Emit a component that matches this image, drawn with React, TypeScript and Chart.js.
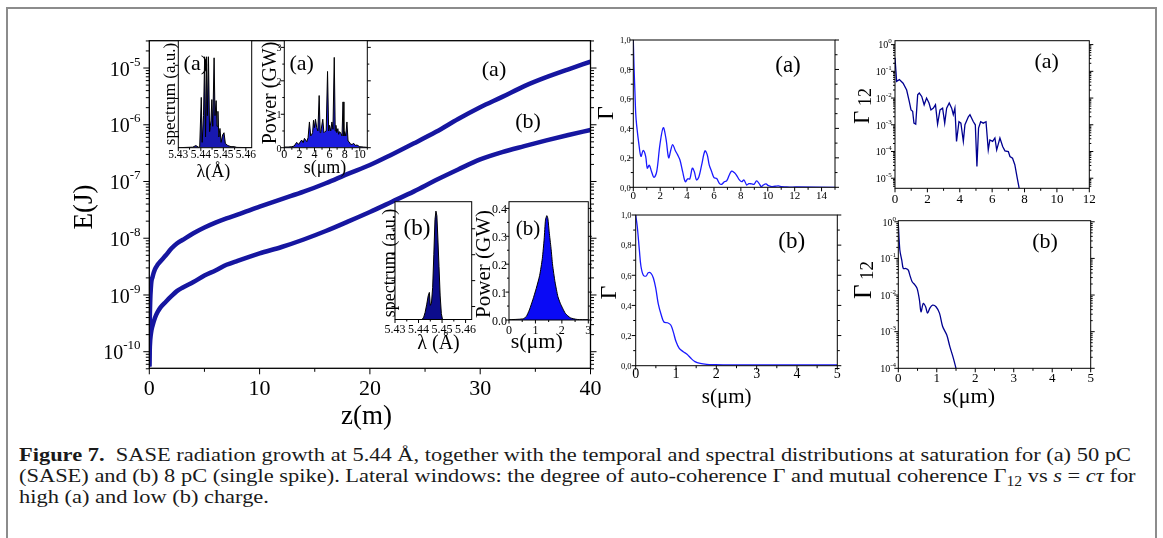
import { useEffect, useRef } from 'react';
import { Chart, registerables } from 'chart.js';
Chart.register(...registerables);

const FONT = '"Liberation Serif", "Times New Roman", Times, serif';

// ---------------- data ----------------
// main panel: E(J) vs z(m)
const zMain = [0, 0.05, 0.15, 0.3, 0.5, 0.75, 1, 1.5, 2, 2.5, 3, 4, 5, 6, 7, 8, 10, 12, 14, 16, 18, 20, 22, 24, 26, 28, 30, 32, 34, 36, 38, 40];
const energyA = [5.5e-11, 4.2e-10, 1.4e-9, 2.1e-9, 2.8e-9, 3.4e-9, 3.9e-9, 5.0e-9, 6.6e-9, 8.1e-9, 9.3e-9, 1.22e-8, 1.54e-8, 1.88e-8, 2.24e-8, 2.6e-8, 3.6e-8, 4.9e-8, 6.6e-8, 9.3e-8, 1.36e-7, 1.95e-7, 3.0e-7, 4.7e-7, 7.5e-7, 1.26e-6, 2.03e-6, 3.1e-6, 4.8e-6, 6.9e-6, 9.5e-6, 1.29e-5];
const energyB = [5.5e-11, 1.23e-10, 2.1e-10, 2.9e-10, 3.9e-10, 5.0e-10, 6.0e-10, 7.6e-10, 9.5e-10, 1.17e-9, 1.34e-9, 1.69e-9, 2.2e-9, 2.7e-9, 3.4e-9, 4.0e-9, 5.4e-9, 7.0e-9, 9.5e-9, 1.34e-8, 1.96e-8, 2.9e-8, 4.4e-8, 6.7e-8, 1.06e-7, 1.63e-7, 2.45e-7, 3.3e-7, 4.2e-7, 5.3e-7, 6.6e-7, 8.1e-7];
const mainXTicks = [0, 10, 20, 30, 40];
const mainXLabels = ['0', '10', '20', '30', '40'];
const mainXMinor = [5, 15, 25, 35];
const mainYTicks = [1e-5, 1e-6, 1e-7, 1e-8, 1e-9, 1e-10];
const mainYExp = ['-5', '-6', '-7', '-8', '-9', '-10'];

// inset (a): spectrum
const lambdaA = [5.43, 5.4364, 5.4378, 5.4389, 5.4395, 5.4402, 5.4406, 5.4412, 5.4417, 5.4421, 5.4426, 5.4429, 5.4434, 5.4439, 5.4445, 5.4449, 5.4453, 5.4459, 5.4463, 5.4468, 5.4472, 5.4476, 5.448, 5.4485, 5.449, 5.4497, 5.4503, 5.4509, 5.452, 5.4534, 5.4548, 5.456, 5.4626];
const specA = [0, 0.005, 0.02, 0.005, 0.01, 0.47, 0.05, 0.3, 0.85, 0.1, 0.85, 0.3, 0.85, 0.15, 0.25, 0.45, 0.2, 0.84, 0.3, 0.44, 0.2, 0.34, 0.1, 0.18, 0.05, 0.12, 0.14, 0.04, 0.02, 0.01, 0.01, 0.003, 0];
// inset (a): power
const sPowA = [0, 0.5, 1.0, 1.3, 1.64, 1.9, 2.3, 2.5, 2.67, 2.98, 3.15, 3.33, 3.5, 3.6, 3.75, 3.87, 4.0, 4.13, 4.3, 4.45, 4.62, 4.75, 4.84, 5.1, 5.25, 5.38, 5.55, 5.73, 5.88, 6.0, 6.15, 6.31, 6.45, 6.62, 6.75, 6.84, 6.95, 7.1, 7.2, 7.33, 7.5, 7.65, 7.78, 7.9, 8.0, 8.15, 8.3, 8.45, 8.58, 8.8, 9.0, 9.2, 9.4, 9.64, 10.0, 10.5, 11];
const powA = [0.02, 0.02, 0.03, 0.05, 0.16, 0.1, 0.23, 0.15, 0.28, 0.18, 0.3, 0.77, 0.35, 0.38, 0.45, 0.82, 0.6, 0.85, 0.6, 0.5, 1.56, 0.45, 0.48, 0.85, 0.45, 0.48, 0.5, 2.28, 0.5, 0.67, 0.5, 0.77, 0.55, 2.7, 0.5, 0.67, 0.45, 0.57, 0.4, 0.48, 0.43, 0.35, 1.37, 0.35, 0.48, 0.35, 0.77, 0.2, 0.18, 0.1, 0.1, 0.13, 0.07, 0.08, 0.03, 0.02, 0.01];
// inset (b): spectrum
const lambdaB = [5.43, 5.4415, 5.4422, 5.4428, 5.4435, 5.4441, 5.4446, 5.445, 5.4455, 5.446, 5.4465, 5.447, 5.4474, 5.4478, 5.4482, 5.4487, 5.4492, 5.4497, 5.4502, 5.4626];
const specB = [0, 0, 0.02, 0.06, 0.13, 0.2, 0.23, 0.12, 0.14, 0.27, 0.55, 0.85, 0.92, 0.88, 0.7, 0.45, 0.2, 0.05, 0, 0];
// inset (b): power
const sPowB = [0, 0.52, 0.65, 0.77, 0.9, 1.03, 1.16, 1.26, 1.33, 1.38, 1.43, 1.47, 1.52, 1.59, 1.65, 1.74, 1.85, 1.94, 2.03, 2.13, 2.32, 2.58, 3];
const powB = [0.001, 0.004, 0.012, 0.036, 0.072, 0.113, 0.16, 0.22, 0.29, 0.358, 0.374, 0.364, 0.316, 0.257, 0.197, 0.137, 0.084, 0.06, 0.042, 0.024, 0.008, 0.002, 0.001];
const lambdaTicks = [5.43, 5.44, 5.45, 5.46];
const lambdaLabels = ['5.43', '5.44', '5.45', '5.46'];

// right panels: auto-coherence Γ
const sGamA = [0, 0.06, 0.12, 0.18, 0.25, 0.42, 0.57, 0.74, 0.92, 1.04, 1.19, 1.36, 1.54, 1.74, 1.98, 2.23, 2.43, 2.63, 2.78, 2.93, 3.12, 3.3, 3.47, 3.67, 3.87, 4.04, 4.2, 4.39, 4.54, 4.7, 4.88, 5.08, 5.33, 5.5, 5.65, 5.83, 6.0, 6.2, 6.4, 6.57, 6.77, 6.94, 7.14, 7.31, 7.51, 7.69, 7.89, 8.06, 8.23, 8.43, 8.6, 8.8, 8.98, 9.17, 9.35, 9.52, 9.67, 9.87, 10.04, 10.29, 10.54, 10.79, 11.03, 11.4, 12.15, 15];
const gamA = [1.0, 0.8, 0.65, 0.5, 0.42, 0.29, 0.21, 0.25, 0.21, 0.13, 0.15, 0.106, 0.068, 0.106, 0.29, 0.405, 0.33, 0.2, 0.25, 0.29, 0.25, 0.22, 0.185, 0.106, 0.038, 0.057, 0.057, 0.13, 0.106, 0.05, 0.072, 0.15, 0.247, 0.22, 0.15, 0.106, 0.066, 0.06, 0.027, 0.02, 0.038, 0.043, 0.084, 0.11, 0.1, 0.08, 0.05, 0.038, 0.05, 0.016, 0.025, 0.023, 0.02, 0.043, 0.027, 0.005, 0.016, 0.023, 0.011, 0.005, 0.007, 0.009, 0.005, 0.002, 0.002, 0];
const sGamB = [0, 0.04, 0.09, 0.13, 0.19, 0.26, 0.31, 0.38, 0.44, 0.5, 0.56, 0.63, 0.7, 0.79, 0.87, 0.93, 1.0, 1.08, 1.18, 1.28, 1.37, 1.47, 1.6, 1.76, 1.97, 2.17, 5];
const gamB = [1.0, 0.92, 0.77, 0.66, 0.6, 0.595, 0.617, 0.613, 0.58, 0.51, 0.41, 0.34, 0.29, 0.285, 0.27, 0.226, 0.16, 0.115, 0.093, 0.075, 0.049, 0.027, 0.015, 0.009, 0.007, 0.006, 0.006];
const gamYTicks = [0, 0.2, 0.4, 0.6, 0.8, 1.0];
const gamYLabels = ['0,0', '0,2', '0,4', '0,6', '0,8', '1,0'];
const gamYMinor = [0.1, 0.3, 0.5, 0.7, 0.9];

// right panels: mutual coherence Γ12
const sG12A = [0, 0.1, 0.27, 0.5, 0.72, 0.88, 0.99, 1.09, 1.17, 1.28, 1.4, 1.5, 1.65, 1.8, 1.95, 2.1, 2.22, 2.37, 2.5, 2.63, 2.78, 2.94, 3.07, 3.19, 3.35, 3.5, 3.6, 3.7, 3.8, 3.95, 4.07, 4.22, 4.32, 4.53, 4.63, 4.84, 4.96, 5.06, 5.16, 5.29, 5.45, 5.62, 5.76, 5.86, 6.03, 6.17, 6.28, 6.48, 6.65, 6.79, 7.0, 7.1, 7.26, 7.4, 7.55, 7.67];
const g12A = [0.32, 0.042, 0.049, 0.036, 0.02, 0.0075, 0.0036, 0.0032, 0.00115, 0.00106, 0.0133, 0.0154, 0.0115, 0.0056, 0.01, 0.0065, 0.0036, 0.0042, 0.0056, 0.00106, 0.0036, 0.0042, 0.00115, 0.0042, 0.0065, 0.0042, 0.0024, 0.0042, 0.00024, 0.0013, 0.00115, 0.00024, 0.001, 0.002, 0.0024, 0.0013, 0.001, 0.0000275, 0.00075, 0.0013, 0.00115, 0.0013, 0.000115, 0.00027, 0.00024, 0.00032, 0.000115, 0.00032, 0.000154, 0.000106, 0.0001, 0.000065, 0.000056, 0.000032, 0.00001, 0.0000042];
const sG12B = [0, 0.04, 0.09, 0.13, 0.2, 0.26, 0.3, 0.36, 0.43, 0.49, 0.55, 0.59, 0.65, 0.71, 0.76, 0.82, 0.89, 0.98, 1.07, 1.15, 1.26, 1.34, 1.43, 1.5];
const g12B = [0.9, 0.17, 0.09, 0.053, 0.053, 0.048, 0.035, 0.023, 0.019, 0.015, 0.0073, 0.0035, 0.0059, 0.0048, 0.0032, 0.0044, 0.0053, 0.0048, 0.0032, 0.0014, 0.00081, 0.00039, 0.00019, 0.0001];
const g12ATicks = [1, 1e-1, 1e-2, 1e-3, 1e-4, 1e-5];
const g12AExp = ['0', '-1', '-2', '-3', '-4', '-5'];
const g12BTicks = [1, 1e-1, 1e-2, 1e-3, 1e-4];
const g12BExp = ['0', '-1', '-2', '-3', '-4'];

// ---------------- drawing helpers ----------------
type Part = { t: string; s: number; dy?: number; b?: boolean; i?: boolean };
type Axis = { major: number[]; labels?: Part[][]; at?: number; minor?: number[]; len: number; mlen: number };
type Txt = { parts: Part[]; x: number; y: number; align?: 'left' | 'center' | 'right'; rot?: boolean };
type Decor = { ox: number; oy: number; bg?: string; lw?: number; mirror?: boolean; x: Axis; y: Axis; texts: Txt[] };

const fontOf = (p: Part) => `${p.i ? 'italic ' : ''}${p.b ? 'bold ' : ''}${p.s}px ${FONT}`;

function drawRich(ctx: CanvasRenderingContext2D, parts: Part[], x: number, y: number, align: string, rot = false) {
  ctx.save();
  ctx.translate(x, y);
  if (rot) ctx.rotate(-Math.PI / 2);
  ctx.textAlign = 'left';
  ctx.textBaseline = 'alphabetic';
  const w = parts.map((p) => { ctx.font = fontOf(p); return ctx.measureText(p.t).width; });
  const total = w.reduce((a, b) => a + b, 0);
  let cx = align === 'center' ? -total / 2 : align === 'right' ? -total : 0;
  const base = rot ? Math.max(...parts.map((p) => p.s)) * 0.34 : 0;
  parts.forEach((p, i) => { ctx.font = fontOf(p); ctx.fillText(p.t, cx, base + (p.dy || 0)); cx += w[i]; });
  ctx.restore();
}

function makeDecor(d: Decor) {
  return {
    id: 'decor',
    beforeDatasetsDraw(chart: any) {
      if (!d.bg) return;
      const a = chart.chartArea, ctx = chart.ctx;
      ctx.save();
      ctx.fillStyle = d.bg;
      ctx.fillRect(a.left, a.top, a.right - a.left, a.bottom - a.top);
      ctx.restore();
    },
    afterDraw(chart: any) {
      const ctx: CanvasRenderingContext2D = chart.ctx, a = chart.chartArea;
      const xs = chart.scales.x, ys = chart.scales.y;
      ctx.save();
      ctx.strokeStyle = '#000';
      ctx.fillStyle = '#000';
      ctx.lineWidth = 1;
      const ticks = (vals: number[], len: number, horiz: boolean) => {
        ctx.beginPath();
        for (const v of vals) {
          if (horiz) {
            const p = xs.getPixelForValue(v);
            if (p < a.left - 0.5 || p > a.right + 0.5) continue;
            ctx.moveTo(p, a.bottom); ctx.lineTo(p, a.bottom + len);
          } else {
            const p = ys.getPixelForValue(v);
            if (p < a.top - 0.5 || p > a.bottom + 0.5) continue;
            ctx.moveTo(a.left, p); ctx.lineTo(a.left - len, p);
            if (d.mirror) { ctx.moveTo(a.right, p); ctx.lineTo(a.right + len, p); }
          }
        }
        ctx.stroke();
      };
      ticks(d.x.major, d.x.len, true);
      ticks(d.x.minor || [], d.x.mlen, true);
      ticks(d.y.major, d.y.len, false);
      ticks(d.y.minor || [], d.y.mlen, false);
      ctx.lineWidth = d.lw || 1;
      ctx.strokeRect(a.left, a.top, a.right - a.left, a.bottom - a.top);
      if (d.x.labels) d.x.labels.forEach((parts, i) => drawRich(ctx, parts, xs.getPixelForValue(d.x.major[i]), (d.x.at as number) - d.oy, 'center'));
      if (d.y.labels) d.y.labels.forEach((parts, i) => drawRich(ctx, parts, (d.y.at as number) - d.ox, ys.getPixelForValue(d.y.major[i]) + parts[0].s * 0.38, 'right'));
      d.texts.forEach((t) => drawRich(ctx, t.parts, t.x - d.ox, t.y - d.oy, t.align || 'center', !!t.rot));
      ctx.restore();
    },
  };
}

const series = (xs: number[], ys: number[], color: string, width: number, extra: any = {}) => ({
  data: xs.map((x, i) => ({ x, y: ys[i] })),
  borderColor: color,
  borderWidth: width,
  pointRadius: 0,
  fill: false,
  tension: 0,
  ...extra,
});

type Box = [number, number, number, number];
function makeConfig(p: { box: Box; area: Box; xr: [number, number]; yr: [number, number]; ylog?: boolean; datasets: any[]; decor: Omit<Decor, 'ox' | 'oy'> }) {
  const [cl, ct, cw, ch] = p.box;
  const [al, at, ar, ab] = p.area;
  return {
    type: 'line',
    data: { datasets: p.datasets },
    options: {
      responsive: false,
      maintainAspectRatio: false,
      animation: false,
      devicePixelRatio: 1,
      events: [],
      layout: { padding: { left: al - cl, top: at - ct, right: cl + cw - ar, bottom: ct + ch - ab } },
      plugins: { legend: { display: false }, tooltip: { enabled: false } },
      scales: {
        x: { type: 'linear', min: p.xr[0], max: p.xr[1], display: false },
        y: { type: p.ylog ? 'logarithmic' : 'linear', min: p.yr[0], max: p.yr[1], display: false },
      },
    },
    plugins: [makeDecor({ ...p.decor, ox: cl, oy: ct })],
  };
}

const lab = (arr: string[], s: number): Part[][] => arr.map((t) => [{ t, s }]);
const pow10 = (arr: string[], s: number, ss: number, dy: number): Part[][] => arr.map((e) => [{ t: '10', s }, { t: e, s: ss, dy }]);
const T = (t: string, s: number, x: number, y: number, rot = false, extra: Part[] = []): Txt => ({ parts: [{ t, s }, ...extra], x, y, rot });
function logMinors(lo: number, hi: number) {
  const out: number[] = [];
  for (let e = lo; e < hi; e++) for (let m = 2; m < 10; m++) out.push(m * Math.pow(10, e));
  return out;
}
const range = (a: number, b: number, st: number) => { const o: number[] = []; for (let v = a; v <= b + 1e-9; v += st) o.push(+v.toFixed(4)); return o; };

const MAINLINE = '#1616a0';
const GAMLINE = '#1a1aff';
const G12LINE = '#000090';

const panels: { box: Box; build: () => any }[] = [
  {
    box: [50, 15, 575, 420],
    build() {
      return makeConfig({
        box: this.box, area: [149.3, 40.7, 590.5, 368.3], xr: [0, 40], yr: [5.1e-11, 3.03e-5], ylog: true,
        datasets: [
          series(zMain, energyA, MAINLINE, 4.5, { cubicInterpolationMode: 'monotone' }),
          series(zMain, energyB, MAINLINE, 4.5, { cubicInterpolationMode: 'monotone' }),
        ],
        decor: {
          lw: 1.3, mirror: true,
          x: { major: mainXTicks, labels: lab(mainXLabels, 22), at: 395, minor: mainXMinor, len: 6, mlen: 3.5 },
          y: { major: mainYTicks, labels: pow10(mainYExp, 20, 13, -10), at: 140.5, minor: logMinors(-11, -4), len: 6, mlen: 3.5 },
          texts: [T('E(J)', 27, 83, 207, true), T('z(m)', 27, 366.5, 424), T('(a)', 22, 494, 76), T('(b)', 22, 528, 127.7)],
        },
      });
    },
  },
  {
    box: [592, 25, 255, 180],
    build() {
      return makeConfig({
        box: this.box, area: [633.3, 40, 835, 187.3], xr: [0, 15], yr: [0, 1],
        datasets: [series(sGamA, gamA, GAMLINE, 1.3, { tension: 0.35 })],
        decor: {
          mirror: true,
          x: { major: range(0, 14, 2), labels: lab(['0', '2', '4', '6', '8', '10', '12', '14'], 11), at: 199, minor: range(1, 15, 2), len: 4, mlen: 2.5 },
          y: { major: gamYTicks, labels: lab(gamYLabels, 8.5), at: 630.7, minor: gamYMinor, len: 4, mlen: 2.5 },
          texts: [T('Γ', 24, 605, 113, true), T('(a)', 23, 788, 71.5)],
        },
      });
    },
  },
  {
    box: [592, 205, 255, 210],
    build() {
      return makeConfig({
        box: this.box, area: [635.7, 215, 837.3, 365.7], xr: [0, 5], yr: [0, 1],
        datasets: [series(sGamB, gamB, GAMLINE, 1.3, { tension: 0.35 })],
        decor: {
          mirror: true,
          x: { major: range(0, 5, 1), labels: lab(['0', '1', '2', '3', '4', '5'], 14), at: 378.3, minor: range(0.5, 4.5, 1), len: 4, mlen: 2.5 },
          y: { major: gamYTicks, labels: lab(gamYLabels, 8.5), at: 631.5, minor: gamYMinor, len: 4, mlen: 2.5 },
          texts: [T('Γ', 24, 607.5, 292.5, true), T('(b)', 23, 791.7, 248), T('s(μm)', 21, 726.7, 403)],
        },
      });
    },
  },
  {
    box: [848, 25, 255, 185],
    build() {
      return makeConfig({
        box: this.box, area: [895, 40.7, 1089.3, 188.3], xr: [0, 12], yr: [4.2e-6, 1.4], ylog: true,
        datasets: [series(sG12A, g12A, G12LINE, 1.3)],
        decor: {
          mirror: true,
          x: { major: range(0, 12, 2), labels: lab(['0', '2', '4', '6', '8', '10', '12'], 13), at: 203.3, minor: range(1, 11, 2), len: 4, mlen: 2.5 },
          y: { major: g12ATicks, labels: pow10(g12AExp, 10, 7, -5), at: 891.7, minor: logMinors(-6, 0), len: 4, mlen: 2 },
          texts: [T('Γ', 23, 861, 106, true, [{ t: ' 12', s: 18, dy: 2 }]), T('(a)', 22, 1046.7, 68)],
        },
      });
    },
  },
  {
    box: [848, 210, 255, 205],
    build() {
      return makeConfig({
        box: this.box, area: [898.3, 220.7, 1090.7, 368.3], xr: [0, 5], yr: [1e-4, 1.07], ylog: true,
        datasets: [series(sG12B, g12B, G12LINE, 1.3, { tension: 0.3 })],
        decor: {
          mirror: true,
          x: { major: range(0, 5, 1), labels: lab(['0', '1', '2', '3', '4', '5'], 13), at: 381.7, minor: range(0.5, 4.5, 1), len: 4, mlen: 2.5 },
          y: { major: g12BTicks, labels: pow10(g12BExp, 10, 7, -5), at: 896, minor: logMinors(-4, 0), len: 4, mlen: 2 },
          texts: [T('Γ', 25, 862, 280, true, [{ t: ' 12', s: 19, dy: 2 }]), T('(b)', 22, 1045, 248), T('s(μm)', 22, 969, 403)],
        },
      });
    },
  },
  {
    box: [155, 30, 105, 155],
    build() {
      return makeConfig({
        box: this.box, area: [178.3, 40.7, 251.7, 147.7], xr: [5.43, 5.4626], yr: [0, 1],
        datasets: [series(lambdaA, specA, '#000', 1, { fill: 'origin', backgroundColor: '#1818b0' })],
        decor: {
          bg: '#fff',
          x: { major: lambdaTicks, labels: lab(lambdaLabels, 11.5), at: 157.7, minor: [5.435, 5.445, 5.455], len: 3.5, mlen: 2 },
          y: { major: [0.15, 0.46, 0.77], len: 3.5, mlen: 2 },
          texts: [T('(a)', 22, 195.8, 69.5), T('spectrum (a.u.)', 17, 169, 94, true), T('λ(Å)', 18, 213.4, 176.5)],
        },
      });
    },
  },
  {
    box: [258, 30, 118, 155],
    build() {
      return makeConfig({
        box: this.box, area: [284.3, 40.7, 367.3, 147.7], xr: [0, 11], yr: [0, 3.2],
        datasets: [series(sPowA, powA, '#000', 1, { fill: 'origin', backgroundColor: '#1c1ce0' })],
        decor: {
          bg: '#fff', mirror: true,
          x: { major: range(0, 10, 2), labels: lab(['0', '2', '4', '6', '8', '10'], 12), at: 157.7, minor: range(1, 11, 2), len: 3.5, mlen: 2 },
          y: { major: [0, 1, 2, 3], labels: lab(['0', '1', '2', '3'], 10), at: 281.5, minor: [0.5, 1.5, 2.5], len: 3.5, mlen: 2 },
          texts: [T('(a)', 22, 301.7, 69.5), T('Power (GW)', 20, 268.8, 93, true), T('s(μm)', 18, 325, 173)],
        },
      });
    },
  },
  {
    box: [375, 190, 105, 170],
    build() {
      return makeConfig({
        box: this.box, area: [395, 201.7, 471.7, 319.5], xr: [5.43, 5.4626], yr: [0, 1],
        datasets: [series(lambdaB, specB, '#000', 1, { fill: 'origin', backgroundColor: '#0c0c8c' })],
        decor: {
          bg: '#fff', mirror: true,
          x: { major: lambdaTicks, labels: lab(lambdaLabels, 12), at: 333.3, minor: [5.435, 5.445, 5.455], len: 3.5, mlen: 2 },
          y: { major: [0.11, 0.33, 0.55, 0.77], len: 3.5, mlen: 2 },
          texts: [T('spectrum (a.u.)', 18, 389, 263, true), T('(b)', 23, 417, 234.5), T('λ (Å)', 20, 438.5, 349)],
        },
      });
    },
  },
  {
    box: [470, 190, 125, 170],
    build() {
      return makeConfig({
        box: this.box, area: [509, 201.7, 588.3, 320], xr: [0, 3], yr: [0, 0.424],
        datasets: [series(sPowB, powB, '#000', 1, { fill: 'origin', backgroundColor: '#0a0af5', tension: 0.2 })],
        decor: {
          bg: '#fff', mirror: true,
          x: { major: [0, 1, 2, 3], labels: lab(['0', '1', '2', '3'], 12), at: 334.3, minor: [0.5, 1.5, 2.5], len: 3.5, mlen: 2 },
          y: { major: [0, 0.1, 0.2, 0.3, 0.4], labels: lab(['0.0', '0.1', '0.2', '0.3', '0.4'], 12), at: 507, minor: [0.05, 0.15, 0.25, 0.35], len: 3.5, mlen: 2 },
          texts: [T('Power (GW)', 21, 482.5, 264, true), T('(b)', 21, 528, 235), T('s(μm)', 22, 536.7, 348)],
        },
      });
    },
  },
];

function Panel({ box, build }: { box: Box; build: () => any }) {
  const ref = useRef<HTMLCanvasElement>(null);
  useEffect(() => {
    const chart = new Chart(ref.current as HTMLCanvasElement, build.call({ box }) as any);
    return () => chart.destroy();
  }, []);
  const [l, t, w, h] = box;
  return <canvas ref={ref} width={w} height={h} style={{ position: 'absolute', left: l, top: t, width: w, height: h }} />;
}

const capStyle = (top: number): any => ({
  position: 'absolute', left: 19, top, whiteSpace: 'nowrap', fontFamily: FONT, fontSize: 19.5, lineHeight: '21px', color: '#1a1a1a',
  transform: 'scaleX(1.15)', transformOrigin: '0 0',
});

export default function App() {
  return (
    <div style={{ position: 'absolute', left: 0, top: 0, width: 1163, height: 538, overflow: 'hidden', background: '#fff' }}>
      <div style={{ position: 'absolute', left: 6, top: 7, width: 1151, height: 600, border: '2px solid #8c8c8c', boxSizing: 'border-box' }} />
      {panels.map((p, i) => <Panel key={i} box={p.box} build={p.build} />)}
      <div style={capStyle(443.6)}>
        <b>Figure 7.</b>&nbsp;&nbsp;SASE radiation growth at 5.44 Å, together with the temporal and spectral distributions at saturation for (a) 50 pC
      </div>
      <div style={capStyle(464.6)}>
        (SASE) and (b) 8 pC (single spike). Lateral windows: the degree of auto-coherence Γ and mutual coherence Γ
        <sub style={{ fontSize: '0.7em', verticalAlign: '-0.3em', lineHeight: 0 }}>12</sub> vs <i>s</i> = <i>cτ</i> for
      </div>
      <div style={capStyle(485.6)}>high (a) and low (b) charge.</div>
    </div>
  );
}
